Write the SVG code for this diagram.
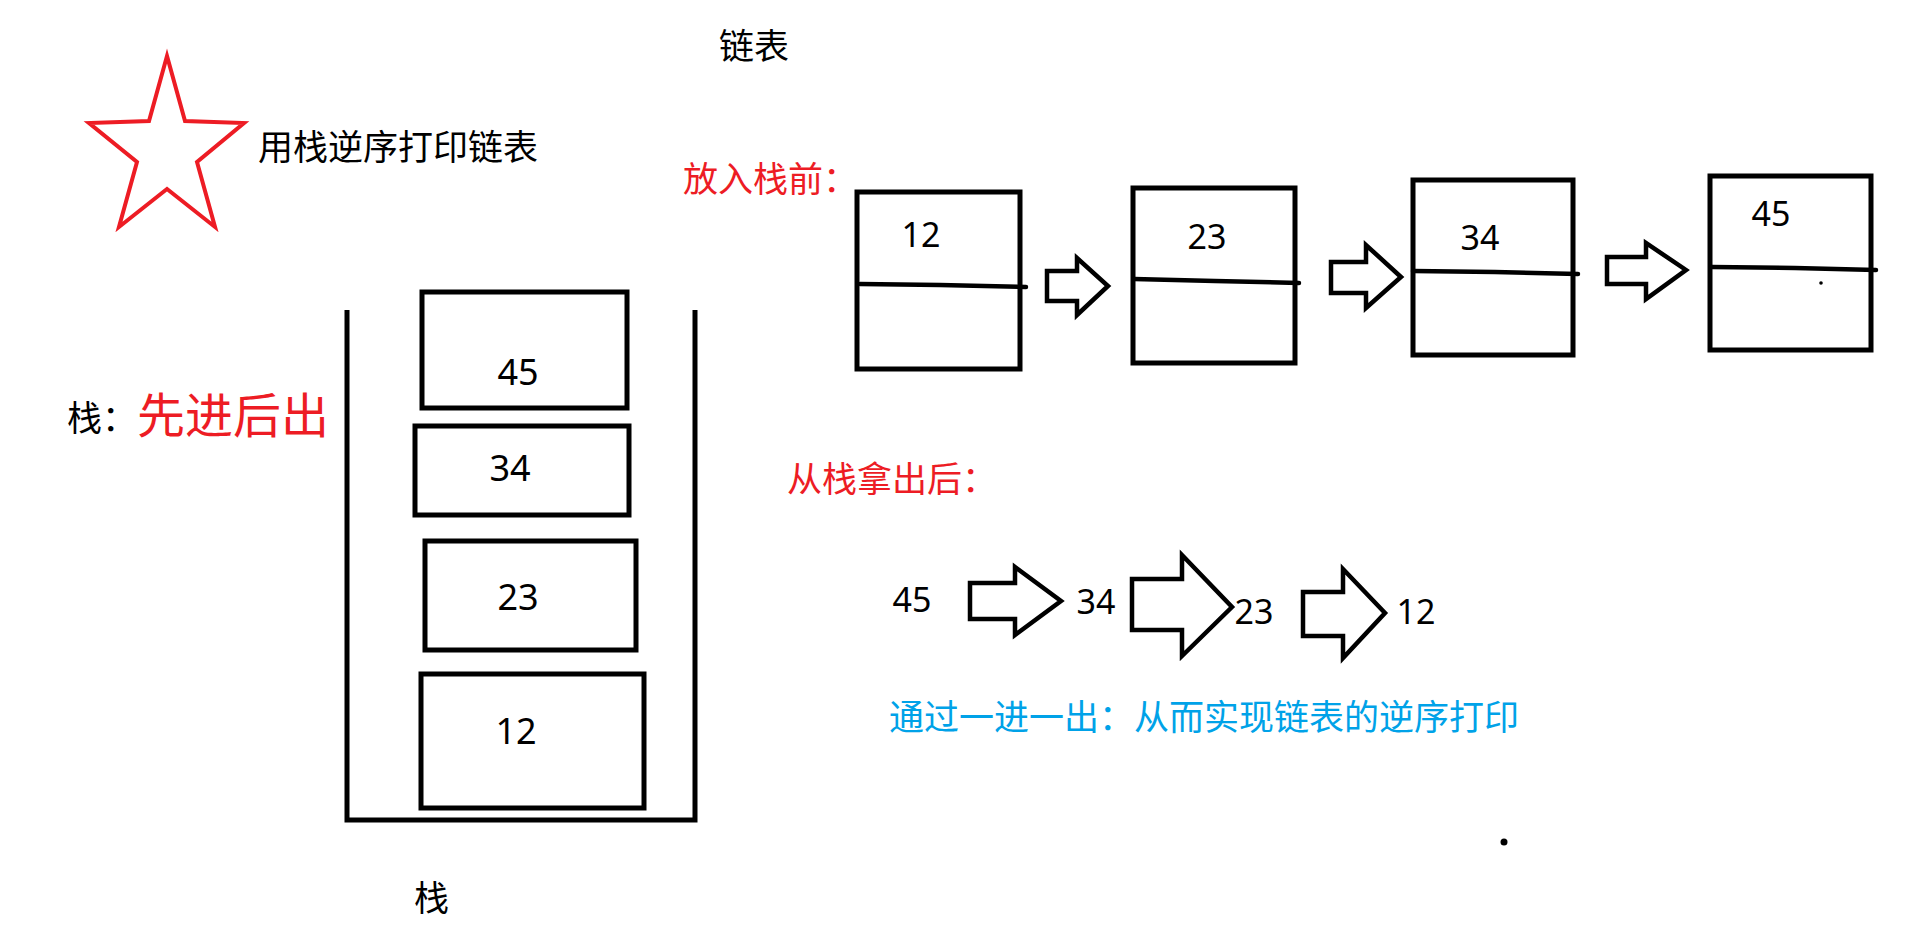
<svg xmlns="http://www.w3.org/2000/svg" width="1924" height="937" viewBox="0 0 1924 937">
<style>
.cjk{font-family:"Noto Sans CJK SC","Noto Sans",sans-serif;font-size:35px;fill:#000}
.red{fill:#ED1C24}
.blue{fill:#00A2E8}
.num{font-family:"Noto Sans","Noto Sans CJK SC",sans-serif;font-size:34px;fill:#000;text-anchor:middle}
.box{fill:none;stroke:#000;stroke-width:5}
.div{fill:none;stroke:#000;stroke-width:4.5;stroke-linecap:round}
.arr{fill:#fff;stroke:#000;stroke-width:4.5;stroke-linejoin:miter}
</style>
<rect x="0" y="0" width="1924" height="937" fill="#fff"/>

<g id="title">
<text class="cjk" x="719" y="59">链表</text>
</g>

<g id="star">
<polygon points="167,56 149,121 89,123 137,162 119,227 167,189 215,227 197,162 244,123 185,121" fill="none" stroke="#ED1C24" stroke-width="4" stroke-linejoin="miter"/>
<text class="cjk" x="258" y="160">用栈逆序打印链表</text>
</g>

<g id="stack-label">
<text class="cjk" x="67" y="431">栈：</text>
<text class="cjk red" x="137" y="433" style="font-size:48px">先进后出</text>
</g>

<g id="stack">
<path class="box" d="M347 310 V820 H695 V310"/>
<text class="cjk" x="414" y="911">栈</text>
</g>

<g id="stack-45">
<rect class="box" x="422" y="292" width="205" height="116"/>
<text class="num" x="518" y="385" style="font-size:36px">45</text>
</g>
<g id="stack-34">
<rect class="box" x="415" y="426" width="214" height="89"/>
<text class="num" x="510" y="481" style="font-size:36px">34</text>
</g>
<g id="stack-23">
<rect class="box" x="425" y="541" width="211" height="109"/>
<text class="num" x="518" y="610" style="font-size:36px">23</text>
</g>
<g id="stack-12">
<rect class="box" x="421" y="674" width="223" height="134"/>
<text class="num" x="516" y="744" style="font-size:36px">12</text>
</g>

<g id="before-label">
<text class="cjk red" x="683" y="192">放入栈前：</text>
</g>

<g id="node-12">
<rect class="box" x="857" y="192" width="163" height="177"/>
<path class="div" d="M860 284 L940 285 L1026 287"/>
<text class="num" x="921" y="247">12</text>
</g>
<g id="node-23">
<rect class="box" x="1133" y="188" width="162" height="175"/>
<path class="div" d="M1134 279 L1215 281 L1299 283"/>
<text class="num" x="1207" y="249">23</text>
</g>
<g id="node-34">
<rect class="box" x="1413" y="180" width="160" height="175"/>
<path class="div" d="M1413 271 L1495 272 L1578 274"/>
<text class="num" x="1480" y="250">34</text>
</g>
<g id="node-45">
<rect class="box" x="1710" y="176" width="161" height="174"/>
<path class="div" d="M1712 267 L1795 268 L1876 270"/>
<circle cx="1821" cy="283" r="1.8" fill="#000"/>
<text class="num" x="1771" y="226">45</text>
</g>

<g id="after-label">
<text class="cjk red" x="787" y="492">从栈拿出后：</text>
</g>

<g id="seq-45"><text class="num" x="912" y="612">45</text></g>
<g id="seq-34"><text class="num" x="1096" y="614">34</text></g>
<g id="seq-23"><text class="num" x="1254" y="624">23</text></g>
<g id="seq-12"><text class="num" x="1416" y="624">12</text></g>

<g id="summary">
<text class="cjk blue" x="889" y="730">通过一进一出：从而实现链表的逆序打印</text>
</g>

<g id="connectors">
<polygon class="arr" points="1047,271 1077,271 1077,258 1108,286 1077,315 1077,301 1047,301"/>
<polygon class="arr" points="1331,262 1366,262 1366,245 1401,277 1366,308 1366,293 1331,293"/>
<polygon class="arr" points="1607,257 1646,257 1646,243 1686,270 1646,299 1646,284 1607,284"/>
<polygon class="arr" points="970,583 1015,583 1015,567 1061,601 1015,635 1015,619 970,619"/>
<polygon class="arr" points="1132,579 1182,579 1182,555 1232,607 1182,656 1182,630 1132,630"/>
<polygon class="arr" points="1303,592 1343,592 1343,569 1385,613 1343,658 1343,636 1303,636"/>
</g>

<g id="dot">
<circle cx="1504" cy="842" r="3.5" fill="#000"/>
</g>
</svg>
